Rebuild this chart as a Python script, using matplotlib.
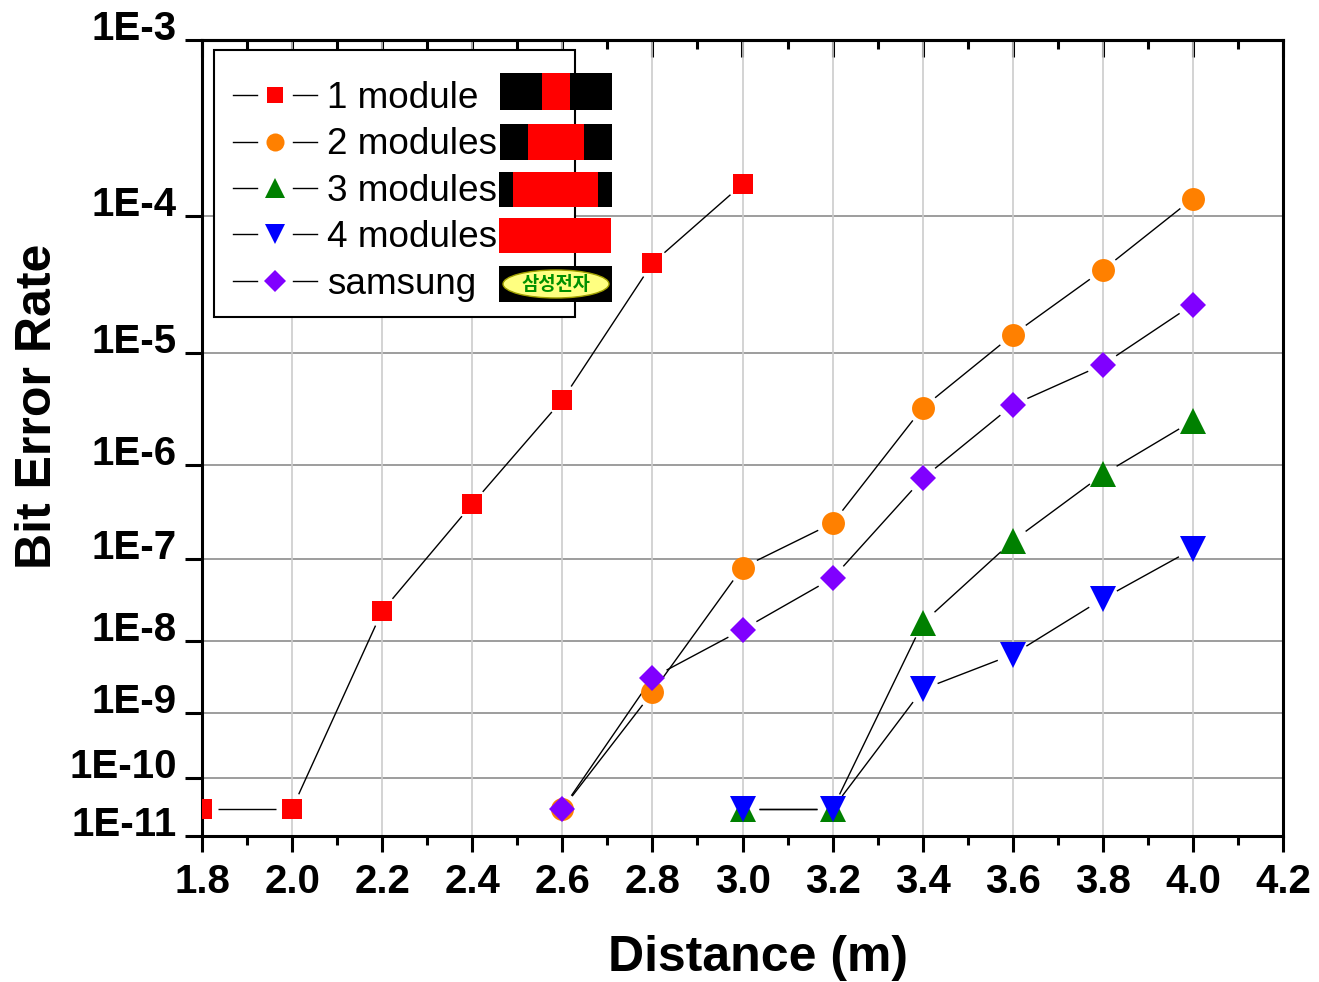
import numpy as np
import matplotlib
matplotlib.use("Agg")
import matplotlib.pyplot as plt
from matplotlib.lines import Line2D
from matplotlib.patches import Rectangle, Ellipse
from matplotlib.legend_handler import HandlerBase
from matplotlib.ticker import MultipleLocator, NullLocator, FormatStrFormatter
from matplotlib.font_manager import FontProperties

# ---------------- data ----------------
labels = ["1 module", "2 modules", "3 modules", "4 modules", "samsung"]
x_1mod = [1.8, 2.0, 2.2, 2.4, 2.6, 2.8, 3.0]
ber_1mod = [3e-11, 3e-11, 2.4e-8, 4.0e-7, 4.0e-6, 4.8e-5, 1.6e-4]
x_2mod = [2.6, 2.8, 3.0, 3.2, 3.4, 3.6, 3.8, 4.0]
ber_2mod = [3e-11, 2.0e-9, 8.0e-8, 2.5e-7, 3.4e-6, 1.4e-5, 4.3e-5, 1.3e-4]
x_3mod = [3.0, 3.2, 3.4, 3.6, 3.8, 4.0]
ber_3mod = [3e-11, 3e-11, 1.7e-8, 1.6e-7, 8.0e-7, 2.6e-6]
x_4mod = [3.0, 3.2, 3.4, 3.6, 3.8, 4.0]
ber_4mod = [3e-11, 3e-11, 2.2e-9, 6.6e-9, 3.4e-8, 1.3e-7]
x_sams = [2.6, 2.8, 3.0, 3.2, 3.4, 3.6, 3.8, 4.0]
ber_sams = [3e-11, 3.2e-9, 1.4e-8, 6.0e-8, 7.3e-7, 3.6e-6, 8.0e-6, 2.4e-5]
y_ticks = [1e-3, 1e-4, 1e-5, 1e-6, 1e-7, 1e-8, 1e-9, 1e-10, 1e-11]
y_ticklabels = ["1E-3", "1E-4", "1E-5", "1E-6", "1E-7", "1E-8", "1E-9", "1E-10", "1E-11"]

colors = ["#ff0000", "#ff8000", "#008000", "#0000ff", "#8000ff"]
markers = ["s", "o", "^", "v", "D"]
msizes = [14.4, 16.5, 18.5, 18.5, 13.7]
leg_msizes = [12.2, 13.0, 14.5, 14.5, 11.0]

W, H = 1319, 982
fig = plt.figure(figsize=(W / 100, H / 100), dpi=100)
plt.rcParams['font.family'] = ['Liberation Sans', 'DejaVu Sans']

L, R, T, B = 202, 1283, 40, 836
ax = fig.add_axes([L / W, 1 - B / H, (R - L) / W, (B - T) / H])


def fwd(y):
    y = np.asarray(y, dtype=float)
    with np.errstate(all="ignore"):
        return -np.log(-np.log10(y))


def inv(t):
    t = np.asarray(t, dtype=float)
    with np.errstate(all="ignore"):
        return 10 ** (-np.exp(-t))


ax.set_yscale("function", functions=(fwd, inv))
ax.set_xlim(1.8, 4.2)
ax.set_ylim(1e-11, 1e-3)

# grid
ax.set_axisbelow(True)
for yt in y_ticks[1:-1]:
    ax.axhline(yt, color="#8c8c8c", lw=1.2, zorder=0.5)
ax.xaxis.set_major_locator(MultipleLocator(0.2))
ax.xaxis.set_minor_locator(MultipleLocator(0.1))
ax.xaxis.grid(True, which="major", color="#cccccc", lw=1.2)
ax.xaxis.set_major_formatter(FormatStrFormatter("%.1f"))

ax.set_yticks(y_ticks, y_ticklabels)
ax.yaxis.set_minor_locator(NullLocator())

for s in ax.spines.values():
    s.set_linewidth(2.2)
ax.tick_params(axis="x", which="major", direction="out", length=11.5, width=2.2,
               labelsize=29, pad=8, top=False)
ax.tick_params(axis="x", which="minor", direction="out", length=6.5, width=2.2, top=False)
ax.tick_params(axis="y", which="major", direction="out", length=12, width=2.2,
               labelsize=29, pad=6, right=False)
for lab in ax.get_xticklabels() + ax.get_yticklabels():
    lab.set_fontweight("bold")
for lab in ax.get_yticklabels():
    lab.set_verticalalignment("baseline")

sec = ax.secondary_xaxis("top")
sec.xaxis.set_major_locator(MultipleLocator(0.2))
sec.xaxis.set_minor_locator(MultipleLocator(0.1))
sec.tick_params(axis="x", which="major", direction="in", length=12, width=2.2, labeltop=False)
sec.tick_params(axis="x", which="minor", direction="in", length=6.5, width=2.2)
sec.spines["top"].set_linewidth(2.2)

ax.set_xlabel("Distance (m)", fontsize=36, fontweight="bold")
ax.xaxis.set_label_coords(0.514, -0.153)
ax.xaxis.label.set_verticalalignment("center")
ax.set_ylabel("Bit Error Rate", fontsize=36, fontweight="bold")
ax.yaxis.set_label_coords(-0.152, 0.540)
ax.yaxis.label.set_verticalalignment("center")

series = [(x_1mod, ber_1mod), (x_2mod, ber_2mod), (x_3mod, ber_3mod),
          (x_4mod, ber_4mod), (x_sams, ber_sams)]
GAP = 16.0  # pixels between marker centre and line end
inv_trans = ax.transData.inverted()
handles = []
for i, (xs, ys) in enumerate(series):
    pts = ax.transData.transform(np.column_stack([xs, ys]))
    for p0, p1 in zip(pts[:-1], pts[1:]):
        d = p1 - p0
        n = np.hypot(*d)
        if n <= 2 * GAP:
            continue
        u = d / n
        q = inv_trans.transform(np.array([p0 + u * GAP, p1 - u * GAP]))
        ax.plot(q[:, 0], q[:, 1], color="black", lw=1.0, zorder=2, solid_capstyle="butt")
    h, = ax.plot(xs, ys, ls="none", marker=markers[i], ms=msizes[i], color=colors[i],
                 mec=colors[i], mew=0, zorder=3 + i, label=labels[i])
    handles.append(h)


class GapHandler(HandlerBase):
    def create_artists(self, legend, orig_handle, xdescent, ydescent, width, height,
                       fontsize, trans):
        y = height / 2 - ydescent
        x0 = -xdescent
        x1 = x0 + width
        xm = (x0 + x1) / 2
        g = width * 0.21
        idx = handles.index(orig_handle)
        l1 = Line2D([x0, xm - g], [y, y], color="black", lw=1.0)
        l2 = Line2D([xm + g, x1], [y, y], color="black", lw=1.0)
        mk = Line2D([xm], [y], ls="none", marker=orig_handle.get_marker(),
                    ms=leg_msizes[idx], color=orig_handle.get_color(), mew=0)
        for a in (l1, l2, mk):
            a.set_transform(trans)
        return [l1, l2, mk]


# legend frame (drawn inside the axes, beneath the legend entries)
frame = Rectangle((214 / W, 1 - 317 / H), (575 - 214) / W, (317 - 50) / H,
                  transform=fig.transFigure, fc="white", ec="black", lw=1.5,
                  zorder=15, clip_on=False)
ax.add_patch(frame)

leg = ax.legend(handles=handles, labels=labels, loc="upper left",
                bbox_to_anchor=(233 / W, 1 - 81 / H), bbox_transform=fig.transFigure,
                frameon=False, borderpad=0, borderaxespad=0, handlelength=2.28,
                handletextpad=0.27, labelspacing=0.31,
                handler_map={h: GapHandler() for h in handles},
                prop=FontProperties(family="Liberation Sans", size=26.6))
leg.set_zorder(20)


def px_rect(x0, y0, x1, y1, color):
    fig.add_artist(Rectangle((x0 / W, 1 - y1 / H), (x1 - x0) / W, (y1 - y0) / H,
                             transform=fig.transFigure, fc=color, ec="none", zorder=5))


# module icons next to legend
px_rect(500, 73, 612, 110, "black"); px_rect(542, 73, 570, 110, "#ff0000")
px_rect(500, 124, 612, 160, "black"); px_rect(528, 124, 584, 160, "#ff0000")
px_rect(499, 172, 612, 207, "black"); px_rect(513, 172, 598, 207, "#ff0000")
px_rect(499, 218, 611, 253, "#ff0000")
px_rect(499, 266, 612, 302, "black")
fig.add_artist(Ellipse((556 / W, 1 - 284 / H), 106 / W, 28 / H, transform=fig.transFigure,
                       fc="#ffff80", ec="#a0a000", lw=1, zorder=6))
fig.text(556 / W, 1 - 285 / H, "삼성전자", ha="center", va="center",
         family=["Noto Sans CJK KR"], color="#009000", fontsize=13.5,
         fontweight="bold", zorder=7)

fig.savefig("out.png", dpi=100)
